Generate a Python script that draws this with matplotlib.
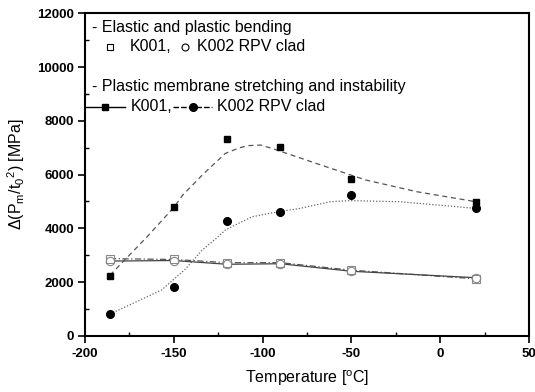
import numpy as np
import matplotlib
matplotlib.use("Agg")
import matplotlib.pyplot as plt
from matplotlib.ticker import MultipleLocator

plt.rcParams["font.family"] = ["Liberation Sans", "DejaVu Sans"]
plt.rcParams["mathtext.fontset"] = "custom"
plt.rcParams["mathtext.rm"] = "Liberation Sans"
plt.rcParams["mathtext.it"] = "Liberation Sans:italic"
plt.rcParams["axes.unicode_minus"] = False

temps = [-186, -150, -120, -90, -50, 20]

# plastic membrane stretching (filled symbols)
k001_mem = [2220, 4780, 7320, 7040, 5840, 4990]
k002_mem = [810, 1830, 4280, 4620, 5240, 4740]

# elastic/plastic bending (open symbols)
k001_bend = [2870, 2840, 2720, 2720, 2440, 2120]
k002_bend = [2780, 2800, 2660, 2680, 2400, 2160]

# smoothed fit curves
k001_fit_x = [-186, -165, -150, -145, -133, -121, -113, -108, -101, -95, -70, -42, -13, 20]
k001_fit_y = [2250, 3690, 4780, 5240, 6050, 6790, 7000, 7080, 7100, 6980, 6420, 5800, 5360, 4990]
k002_fit_x = [-186, -181, -157, -144, -134, -125, -121, -106, -91, -79, -62, -51, -23, 5, 20]
k002_fit_y = [810, 960, 1700, 2450, 3190, 3690, 3940, 4430, 4620, 4740, 4990, 5030, 4990, 4830, 4740]

fig, ax = plt.subplots(figsize=(5.35, 3.92), dpi=100)
fig.subplots_adjust(left=0.159, right=0.989, bottom=0.1436, top=0.9656)

ax.plot(k001_fit_x, k001_fit_y, color="#555555", lw=0.9, ls=(0, (4, 3)))
ax.plot(k002_fit_x, k002_fit_y, color="#666666", lw=0.9, ls=(0, (1, 1.5)))
ax.plot(temps, k001_bend, color="#555555", lw=0.9, ls=(0, (5, 2, 1, 2)))
ax.plot(temps, k002_bend, color="#444444", lw=0.9, ls="-")

ax.plot(temps, k001_mem, ls="none", marker="s", ms=5, color="black")
ax.plot(temps, k002_mem, ls="none", marker="o", ms=5.5, color="black")
ax.plot(temps, k001_bend, ls="none", marker="s", ms=5.5, mfc="white", mec="#888888", mew=0.8)
ax.plot(temps, k002_bend, ls="none", marker="o", ms=6, mfc="none", mec="#888888", mew=0.8)

ax.set_xlim(-200, 50)
ax.set_ylim(0, 12000)
ax.xaxis.set_major_locator(MultipleLocator(50))
ax.xaxis.set_minor_locator(MultipleLocator(25))
ax.yaxis.set_major_locator(MultipleLocator(2000))
ax.yaxis.set_minor_locator(MultipleLocator(1000))
ax.tick_params(which="major", direction="out", length=5, width=1.2, labelsize=9.5, pad=3)
ax.tick_params(axis="x", which="major", pad=4)
ax.tick_params(which="minor", direction="in", length=3, width=1.0)
ax.tick_params(which="both", top=False, right=False)
for lab in ax.get_xticklabels() + ax.get_yticklabels():
    lab.set_fontweight("bold")
for sp in ax.spines.values():
    sp.set_linewidth(1.5)

ax.set_xlabel(r"Temperature [$^{\rm o}$C]", fontsize=11.5, labelpad=6)
ax.set_ylabel(r"$\Delta$(P$_{\rm m}$/t$_{\rm 0}$$^{\rm 2}$) [MPa]", fontsize=11.5, labelpad=7)

# legend block written as text
fs = 11.5
tr = ax.transAxes
ax.text(0.015, 0.958, "- Elastic and plastic bending", transform=tr, fontsize=fs, va="center")
ax.plot([0.056], [0.897], transform=tr, marker="s", ms=5, mfc="white", mec="black", mew=0.8)
ax.text(0.101, 0.897, "K001,", transform=tr, fontsize=fs, va="center")
ax.plot([0.225], [0.897], transform=tr, marker="o", ms=5, mfc="white", mec="black", mew=0.8)
ax.text(0.252, 0.897, "K002 RPV clad", transform=tr, fontsize=fs, va="center")

ax.text(0.015, 0.773, "- Plastic membrane stretching and instability", transform=tr, fontsize=fs, va="center")
ax.plot([0.0, 0.09], [0.71, 0.71], transform=tr, color="black", lw=1.0)
ax.plot([0.045], [0.71], transform=tr, marker="s", ms=5, color="black")
ax.text(0.104, 0.71, "K001,", transform=tr, fontsize=fs, va="center")
ax.plot([0.198, 0.285], [0.71, 0.71], transform=tr, color="black", lw=1.0, ls=(0, (4, 1.5)))
ax.plot([0.243], [0.71], transform=tr, marker="o", ms=5.5, color="black")
ax.text(0.298, 0.71, "K002 RPV clad", transform=tr, fontsize=fs, va="center")

fig.savefig("out.png", dpi=100)
